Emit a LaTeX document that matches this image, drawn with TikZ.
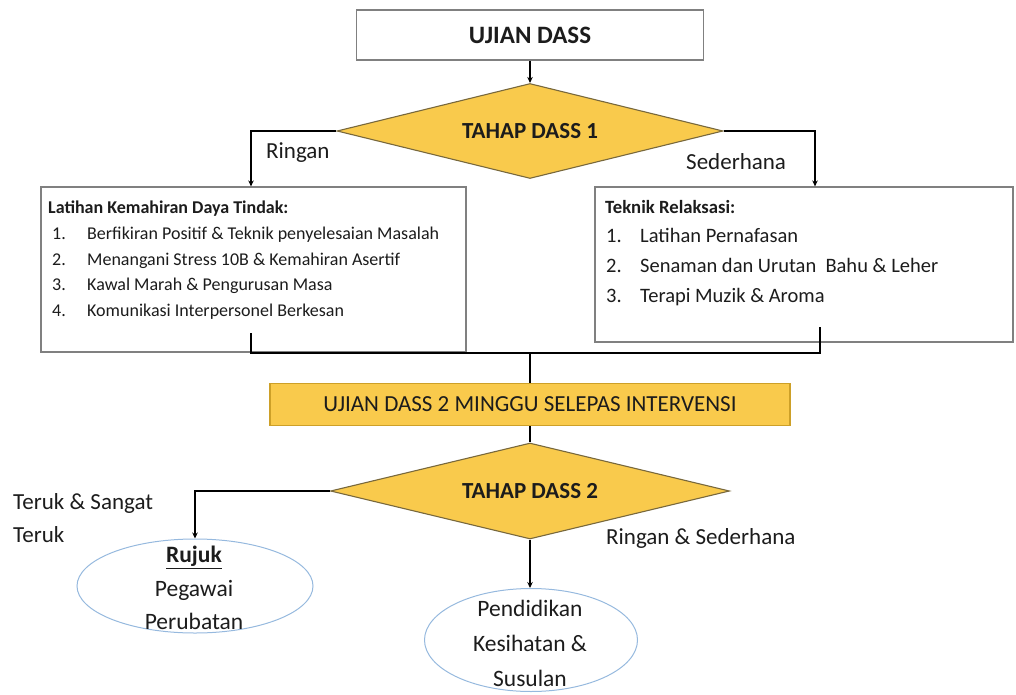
\documentclass[tikz,border=0pt]{standalone}
\usepackage{fontspec}
\setmainfont{Carlito}
\usetikzlibrary{shapes.geometric,arrows.meta,calc}
\definecolor{goldfill}{RGB}{249,202,76}
\definecolor{goldedge}{RGB}{205,160,40}
\definecolor{diaedge}{RGB}{120,104,60}
\definecolor{boxedge}{RGB}{128,128,128}
\definecolor{ovaledge}{RGB}{150,185,222}
\definecolor{ink}{RGB}{28,28,28}
\newcommand{\fs}[2]{\fontsize{#1}{#2}\selectfont}
\begin{document}
\begin{tikzpicture}[x=1pt,y=-1pt,
  every node/.style={text=ink},
  plainbox/.style={draw=boxedge, line width=1.2pt, fill=white, inner sep=0pt},
  decision/.style={diamond, aspect=4, draw=diaedge, line width=1.1pt, fill=goldfill, inner sep=0pt,
    font=\fs{23}{28}\bfseries},
  goldbox/.style={draw=goldedge, line width=1.2pt, fill=goldfill, inner sep=0pt, font=\fs{23}{28}},
  oval/.style={ellipse, draw=ovaledge, line width=1pt, inner sep=0pt},
  conn/.style={draw=black, line width=2.2pt},
  arr/.style={-{Stealth[length=6pt,width=5.5pt]}},
  lline/.style={anchor=base west, inner sep=0pt, font=\fs{18}{22}},
  rline/.style={anchor=base west, inner sep=0pt, font=\fs{20.5}{24}},
  lbl/.style={anchor=west, inner sep=0pt, font=\fs{23}{28}}]
\useasboundingbox (0,0) rectangle (1016,695);

% top test box and first decision
\node[plainbox, minimum width=347pt, minimum height=50pt, font=\fs{25}{30}\bfseries] (top) at (530,35) {UJIAN DASS};
\node[decision, minimum width=386pt, minimum height=95pt] (d1) at (530,131) {TAHAP DASS 1};

% intervention boxes
\node[plainbox, minimum width=425pt, minimum height=165pt] (lbox) at (253.5,269.5) {};
\node[plainbox, minimum width=418pt, minimum height=155pt] (rbox) at (804,264.5) {};

\node[lline, font=\fs{18}{22}\bfseries] (lt) at (48,213) {Latihan Kemahiran Daya Tindak:};
\node[lline] (l1) at (52,239) {\makebox[35pt][l]{1.}Berfikiran Positif \& Teknik penyelesaian Masalah};
\node[lline] (l2) at (52,265) {\makebox[35pt][l]{2.}Menangani Stress 10B \& Kemahiran Asertif};
\node[lline] (l3) at (52,290) {\makebox[35pt][l]{3.}Kawal Marah \& Pengurusan Masa};
\node[lline] (l4) at (52,316) {\makebox[35pt][l]{4.}Komunikasi Interpersonel Berkesan};

\node[lline, font=\fs{18.7}{22}\bfseries] (rt) at (605,213) {Teknik Relaksasi:};
\node[rline] (r1) at (606,242) {\makebox[34pt][l]{1.}Latihan Pernafasan};
\node[rline] (r2i) at (606,272) {\makebox[34pt][l]{2.}Senaman dan Urutan~ Bahu \& Leher};
\node[rline] (r3) at (606,302) {\makebox[34pt][l]{3.}Terapi Muzik \& Aroma};

% follow-up test and second decision
\node[goldbox, minimum width=520pt, minimum height=42pt] (r2) at (530,404.5) {UJIAN DASS 2 MINGGU SELEPAS INTERVENSI};
\node[decision, minimum width=399pt, minimum height=96pt] (d2) at (530,491) {TAHAP DASS 2};

% outcomes
\node[oval, minimum width=236pt, minimum height=94pt] (e1) at (195,586) {};
\node[align=center, inner sep=0pt, font=\fs{23.5}{33.5}] (e1t) at (194,588) {\underline{\textbf{Rujuk}}\\Pegawai\\Perubatan};
\node[oval, minimum width=213pt, minimum height=103pt] (e2) at (531,640) {};
\node[align=center, inner sep=0pt, font=\fs{23.5}{35}] (e2t) at (530,643) {Pendidikan\\Kesihatan \&\\Susulan};

% branch labels
\node[lbl] (lr) at (266,153) {Ringan};
\node[lbl] (ls) at (686,162) {Sederhana};
\node[lbl, align=left, font=\fs{23}{33}] (lt2) at (13,518.5) {Teruk \& Sangat\\Teruk};
\node[lbl] (lrs) at (606,538) {Ringan \& Sederhana};

% connectors
\draw[conn, arr] (top.south) -- (d1.north);
\draw[conn, arr] (d1.west) -| ([xshift=-2.5pt]lbox.north);
\draw[conn, arr] (d1.east) -| ([xshift=11pt]rbox.north);

\coordinate (ml) at (251,333);
\coordinate (mr) at (820,327);
\coordinate (mj) at (530,353);
\draw[conn] (ml) |- (mj) -| (mr);
\draw[conn] (mj) -- (r2.north);
\draw[conn] (r2.south) -- (d2.north);

\draw[conn, arr] (d2.west) -| (e1.north);
\draw[conn, arr] (d2.south) -- (d2.south |- e2.north);
\end{tikzpicture}
\end{document}
